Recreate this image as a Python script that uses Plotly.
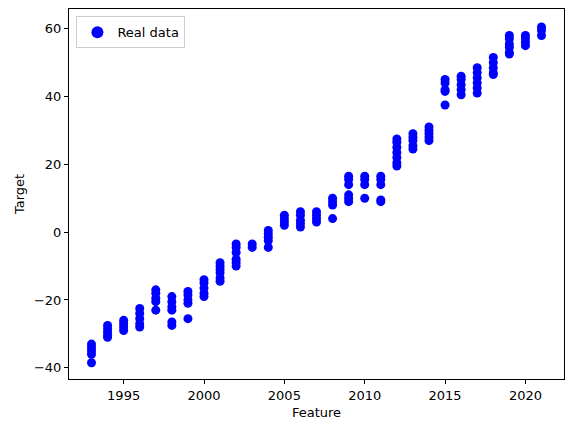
import plotly.graph_objects as go

years = ([1993]*5 + [1994]*5 + [1995]*4 + [1996]*5 + [1997]*5 + [1998]*6 + [1999]*5 +
         [2000]*5 + [2001]*6 + [2002]*6 + [2003]*2 + [2004]*5 + [2005]*4 + [2006]*5 +
         [2007]*4 + [2008]*4 + [2009]*6 + [2010]*4 + [2011]*5 + [2012]*7 + [2013]*5 +
         [2014]*5 + [2015]*5 + [2016]*5 + [2017]*6 + [2018]*5 + [2019]*6 + [2020]*4 + [2021]*3)
target = [-33, -34, -35, -36, -38.5,
          -27.5, -28.5, -29.5, -30.5, -31,
          -26, -27, -28, -29,
          -22.5, -24, -25.5, -27, -28,
          -17, -18, -19.5, -20.5, -23,
          -19, -20.5, -22, -23, -26.5, -27.5,
          -17.5, -18.5, -20, -21, -25.5,
          -14, -15, -16.5, -18, -19,
          -9, -10, -11, -12, -13.5, -14.5,
          -3.5, -4.5, -6, -8, -9, -10,
          -3.5, -4.5,
          0.5, -0.5, -1.5, -2.5, -4.5,
          5, 4, 3, 2,
          6, 5, 3.5, 2.5, 1.5,
          6, 5, 4, 3,
          10, 9, 8, 4,
          16.5, 15.5, 14, 11, 10, 9,
          16.5, 15.5, 14, 10,
          16.5, 15.5, 14, 9.5, 9,
          27.5, 26.5, 25, 23.5, 22, 20.5, 19.5,
          29, 28, 27, 25.5, 24.5,
          31, 30, 29, 28, 27,
          45, 44, 42, 41.5, 37.5,
          46, 45, 43.5, 42, 40.5,
          48.5, 47, 45.5, 44, 42.5, 41,
          51.5, 50, 48.5, 47, 46.5,
          58, 57, 55.5, 54.5, 53, 52.5,
          58, 57, 56, 55,
          60.5, 59.5, 58]
x_ticks = [1995, 2000, 2005, 2010, 2015, 2020]
y_ticks = [-40, -20, 0, 20, 40, 60]

fig = go.Figure()
fig.add_trace(go.Scatter(x=years, y=target, mode="markers", name="Real data",
                         marker=dict(color="#0000ff", size=9, line=dict(width=0))))

axis_common = dict(showgrid=False, zeroline=False, showline=True, linecolor="black",
                   linewidth=1, mirror=True, ticks="outside", ticklen=4, tickcolor="black",
                   tickfont=dict(size=13, color="black"))
fig.update_xaxes(range=[1991.6, 2022.4], tickvals=x_ticks,
                 title=dict(text="Feature", font=dict(size=13, color="black"), standoff=6), **axis_common)
fig.update_yaxes(range=[-43.3, 65.8], tickvals=y_ticks,
                 title=dict(text="Target", font=dict(size=13, color="black"), standoff=6), **axis_common)

fig.update_layout(
    width=574, height=432, template="none",
    margin=dict(l=69, r=10, t=9, b=53),
    font=dict(family="DejaVu Sans", size=13, color="black"),
    paper_bgcolor="white", plot_bgcolor="white",
    showlegend=True,
    legend=dict(x=0.015, y=0.98, xanchor="left", yanchor="top", bgcolor="rgba(255,255,255,0.8)",
                bordercolor="#cccccc", borderwidth=1, font=dict(size=13), itemsizing="constant"),
)
fig.write_html("out.html")
